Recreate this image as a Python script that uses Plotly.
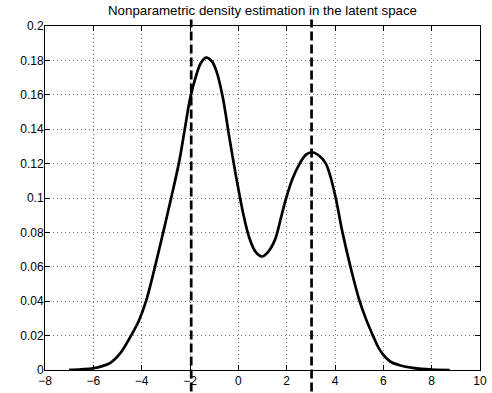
import plotly.graph_objects as go

# Density curve
x_vals = [-7.0, -6.5, -6.0, -5.6, -5.31, -4.9, -4.44, -4.12, -3.82, -3.45, -3.11, -2.78,
          -2.45, -2.21, -2.0, -1.75, -1.55, -1.34, -1.1, -0.9, -0.65, -0.37, -0.1, 0.2,
          0.45, 0.7, 0.98, 1.25, 1.51, 1.64, 1.8, 1.98, 2.25, 2.54, 2.8, 3.05, 3.37, 3.62,
          3.8, 4.03, 4.31, 4.64, 5.02, 5.3, 5.57, 5.8, 6.0, 6.3, 6.67, 7.22, 8.0, 8.75]
density = [0.0001, 0.0004, 0.0010, 0.0024, 0.0040, 0.0095, 0.0200, 0.0285, 0.0400, 0.0600,
           0.0800, 0.1000, 0.1210, 0.1405, 0.1575, 0.1710, 0.1785, 0.1816, 0.1795, 0.1735,
           0.1590, 0.1350, 0.1130, 0.0910, 0.0770, 0.0690, 0.0660, 0.0690, 0.0755, 0.0815,
           0.0905, 0.1000, 0.1115, 0.1200, 0.1252, 0.1266, 0.1243, 0.1200, 0.1130, 0.1000,
           0.0800, 0.0600, 0.0400, 0.0290, 0.0200, 0.0130, 0.0088, 0.0048, 0.0028, 0.0012,
           0.0002, 0.0000]
# Vertical dashed markers
marker_x = [-1.95, 3.03]

x_ticks = [-8, -6, -4, -2, 0, 2, 4, 6, 8, 10]
y_ticks = [0, 0.02, 0.04, 0.06, 0.08, 0.1, 0.12, 0.14, 0.16, 0.18, 0.2]
y_tick_text = ["0", "0.02", "0.04", "0.06", "0.08", "0.1", "0.12", "0.14", "0.16", "0.18", "0.2"]
title_text = "Nonparametric density estimation in the latent space"

FONT = "Liberation Sans, Arial, Helvetica"

fig = go.Figure()
fig.add_trace(go.Scatter(x=x_vals, y=density, mode="lines",
                         line=dict(color="black", width=2.7, shape="spline", smoothing=1.0),
                         showlegend=False, hoverinfo="skip"))

for mx in marker_x:
    fig.add_shape(type="line", xref="x", yref="paper", x0=mx, x1=mx, y0=-0.1, y1=1.019,
                  line=dict(color="black", width=2.7, dash="9px,4px"))

axis_common = dict(showline=True, linecolor="black", linewidth=1, mirror="ticks",
                   ticks="inside", ticklen=5, tickcolor="black", tickwidth=1,
                   showgrid=True, gridcolor="rgba(0,0,0,0.55)", gridwidth=1, griddash="1px,3px",
                   zeroline=False, automargin=False,
                   tickfont=dict(family=FONT, size=12, color="black"))

fig.update_xaxes(range=[-8, 10], tickvals=x_ticks,
                 ticktext=[str(t) if t >= 0 else "\u2212" + str(-t) for t in x_ticks],
                 **axis_common)
fig.update_yaxes(range=[0, 0.2], tickvals=y_ticks, ticktext=y_tick_text,
                 ticklabelstandoff=-2, **axis_common)

fig.update_layout(
    width=492, height=393,
    margin=dict(l=45, r=11.5, t=25.5, b=23, autoexpand=False),
    paper_bgcolor="white", plot_bgcolor="white",
    title=dict(text=title_text, x=0.5, xanchor="center", xref="paper", y=1, yref="container",
               yanchor="top", pad=dict(t=6),
               font=dict(family=FONT, size=13.3, color="black")),
)

fig.write_html("out.html", config={"displayModeBar": False},
               post_script="document.body.style.margin='0px';")
